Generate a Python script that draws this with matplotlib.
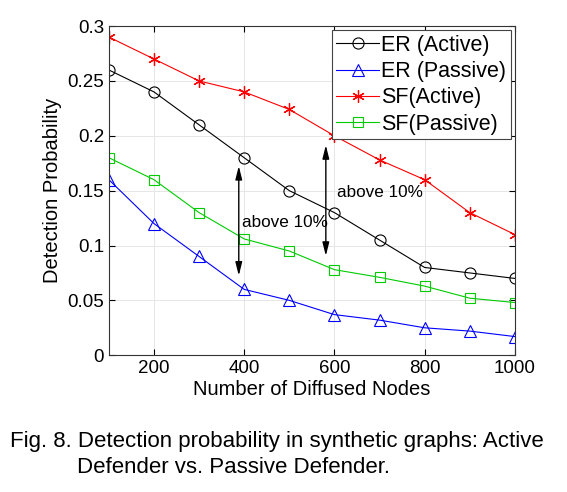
import numpy as np
import matplotlib.pyplot as plt

plt.rcParams['font.family'] = ['Liberation Sans', 'DejaVu Sans']

nodes = [100, 200, 300, 400, 500, 600, 700, 800, 900, 1000]
er_active = [0.26, 0.24, 0.21, 0.18, 0.15, 0.13, 0.105, 0.08, 0.075, 0.07]
er_passive = [0.16, 0.12, 0.09, 0.06, 0.05, 0.037, 0.032, 0.025, 0.022, 0.017]
sf_active = [0.29, 0.27, 0.25, 0.24, 0.224, 0.20, 0.178, 0.16, 0.13, 0.11]
sf_passive = [0.18, 0.16, 0.13, 0.106, 0.095, 0.078, 0.071, 0.063, 0.052, 0.048]

fig = plt.figure(figsize=(5.67, 4.92), dpi=100)
ax = fig.add_axes([0.192, 0.278, 0.716, 0.669])

ax.plot(nodes, er_active, color='black', lw=0.8, marker='o', ms=8, mfc='none', mew=0.8, label='ER (Active)')
ax.plot(nodes, er_passive, color='blue', lw=0.8, marker='^', ms=9, mfc='none', mew=0.8, label='ER (Passive)')
ax.plot(nodes, sf_active, color='red', lw=0.8, marker=(6, 2, 0), ms=9, mew=0.9, label='SF(Active)')
ax.plot(nodes, sf_passive, color='#00cc00', lw=0.8, marker='s', ms=7, mfc='none', mew=0.8, label='SF(Passive)')

# arrows marking the gap
ax.annotate('', xy=(388, 0.175), xytext=(388, 0.070),
            arrowprops=dict(arrowstyle='<|-|>,head_length=0.8,head_width=0.2', color='black', lw=1, mutation_scale=10))
ax.annotate('', xy=(581, 0.194), xytext=(581, 0.088),
            arrowprops=dict(arrowstyle='<|-|>,head_length=0.8,head_width=0.2', color='black', lw=1, mutation_scale=10))
ax.text(395, 0.121, 'above 10%', fontsize=12.3, va='center', ha='left')
ax.text(605, 0.148, 'above 10%', fontsize=12.3, va='center', ha='left')

ax.set_xlim(100, 1000)
ax.set_ylim(0, 0.3)
ax.set_xticks([200, 400, 600, 800, 1000])
ax.set_yticks([0, 0.05, 0.1, 0.15, 0.2, 0.25, 0.3])
ax.set_yticklabels(['0', '0.05', '0.1', '0.15', '0.2', '0.25', '0.3'])
ax.tick_params(labelsize=13.5, direction='in', length=4, top=True, right=True)
ax.grid(True, color='#e6e6e6', lw=0.7)
for s in ax.spines.values():
    s.set_color('#333333')
ax.set_xlabel('Number of Diffused Nodes', fontsize=14.5, labelpad=2)
ax.set_ylabel('Detection Probability', fontsize=14.5)

leg = ax.legend(loc='upper right', fontsize=15.5, fancybox=False, framealpha=1,
                edgecolor='#444444', handlelength=2.0, handletextpad=0.1,
                borderpad=0.2, labelspacing=0.25, borderaxespad=0.2)
leg.get_frame().set_linewidth(0.8)

fig.text(0.018, 0.103, 'Fig. 8. Detection probability in synthetic graphs: Active', fontsize=16, va='center')
fig.text(0.136, 0.050, 'Defender vs. Passive Defender.', fontsize=16, va='center')

fig.savefig('out.png', dpi=100)
